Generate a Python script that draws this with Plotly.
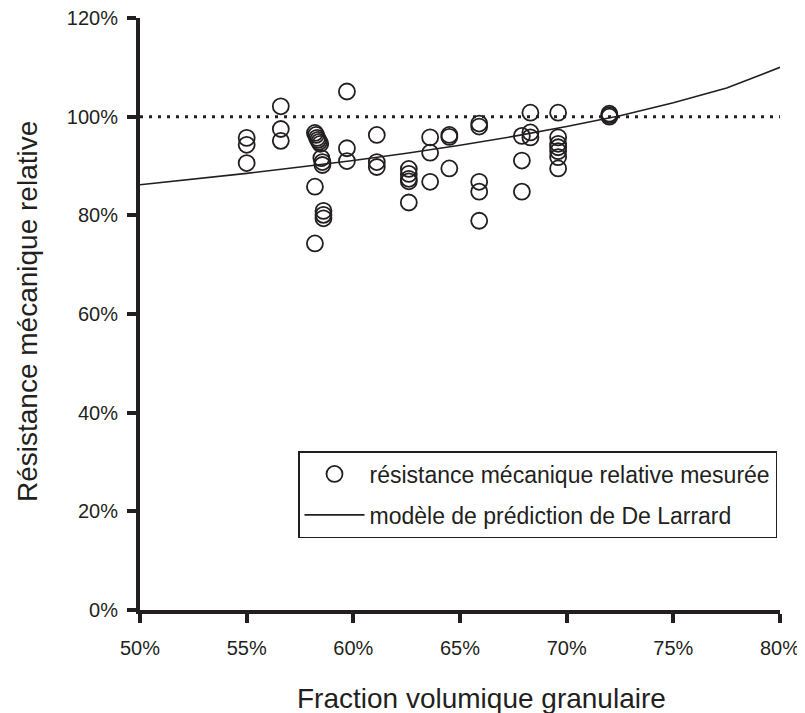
import plotly.graph_objects as go

# Measured points: fraction volumique granulaire (%) and relative strength (%)
meas_x = [55.0, 55.0, 55.0,
          56.6, 56.6, 56.6,
          58.2, 58.25, 58.3, 58.35, 58.4, 58.45, 58.5, 58.55, 58.55, 58.2,
          58.6, 58.6, 58.6, 58.2,
          59.7, 59.7, 59.7,
          61.1, 61.1, 61.1,
          62.6, 62.6, 62.6, 62.6, 62.6,
          63.6, 63.6, 63.6,
          64.5, 64.5, 64.5,
          65.9, 65.9, 65.9, 65.9, 65.9,
          67.9, 67.9, 67.9,
          68.3, 68.3, 68.3,
          69.6, 69.6, 69.6, 69.6, 69.6, 69.6, 69.6,
          72.0, 72.0, 72.0]
meas_y = [95.7, 94.3, 90.6,
          102.1, 97.5, 95.1,
          96.7, 96.3, 95.7, 95.3, 94.9, 94.5, 91.6, 90.8, 90.2, 85.8,
          80.9, 80.1, 79.4, 74.3,
          105.1, 93.6, 91.0,
          96.3, 90.8, 89.8,
          89.4, 88.4, 87.4, 86.9, 82.6,
          95.8, 92.7, 86.8,
          96.3, 95.9, 89.5,
          98.6, 98.0, 86.8, 84.8, 78.9,
          96.1, 91.1, 84.8,
          100.8, 96.8, 95.8,
          100.8, 95.8, 94.5, 93.8, 93.0, 91.8, 89.5,
          100.0, 100.3, 100.6]

# De Larrard prediction model
model_x = [50, 52.5, 55, 57.5, 60, 62.5, 65, 67.5, 70, 72.5, 75, 77.5, 80]
model_y = [86.2, 87.3, 88.5, 89.8, 91.1, 92.6, 94.2, 96.0, 98.0, 100.2, 102.8, 105.8, 110.0]

ref_x = [50, 80]
ref_y = [100, 100]

x_ticks = [50, 55, 60, 65, 70, 75, 80]
x_labels = ["50%", "55%", "60%", "65%", "70%", "75%", "80%"]
y_ticks = [0, 20, 40, 60, 80, 100, 120]
y_labels = ["0%", "20%", "40%", "60%", "80%", "100%", "120%"]

x_title = "Fraction volumique granulaire"
y_title = "Résistance mécanique relative"

FONT = "Liberation Sans, Arial, sans-serif"
INK = "#231f20"

fig = go.Figure()
fig.add_trace(go.Scatter(x=ref_x, y=ref_y, mode="lines",
                         line=dict(color=INK, width=3, dash="3px,6px"),
                         showlegend=False, hoverinfo="skip"))
fig.add_trace(go.Scatter(x=meas_x, y=meas_y, mode="markers",
                         marker=dict(symbol="circle-open", size=16,
                                     line=dict(color=INK, width=1.8), color=INK),
                         legendgroup="a",
                         name="résistance mécanique relative mesurée"))
fig.add_trace(go.Scatter(x=model_x, y=model_y, mode="lines",
                         line=dict(color=INK, width=1.6),
                         legendgroup="b",
                         name="modèle de prédiction de De Larrard"))

fig.add_annotation(text=x_title, xref="paper", yref="paper",
                   x=(295 - 140) / 640, y=-(699 - 610) / 592, xanchor="left", yanchor="middle",
                   showarrow=False, font=dict(family=FONT, size=28, color=INK))
fig.add_annotation(text=y_title, xref="paper", yref="paper", textangle=-90,
                   x=(27 - 140) / 640, y=(610 - 312) / 592, xanchor="center", yanchor="middle",
                   showarrow=False, font=dict(family=FONT, size=28, color=INK))

fig.update_layout(
    width=797, height=705,
    margin=dict(l=132, r=25, t=10, b=103, autoexpand=False),
    paper_bgcolor="white", plot_bgcolor="white",
    font=dict(family=FONT, color=INK, size=20),
    showlegend=True,
    legend=dict(x=(777 - 140) / 640, y=(610 - 451) / 592, xanchor="right", yanchor="top",
                bgcolor="white", bordercolor=INK, borderwidth=1.5,
                font=dict(family=FONT, size=23, color=INK),
                traceorder="grouped", itemwidth=60, tracegroupgap=8),
    xaxis=dict(range=[50, 80], tickvals=x_ticks, ticktext=x_labels,
               showgrid=False, zeroline=False, showline=True, automargin=False,
               linecolor=INK, linewidth=4, ticks="outside", ticklen=9,
               tickwidth=4, tickcolor=INK, ticklabelstandoff=8,
               ticklabeloverflow="allow",
               tickfont=dict(family=FONT, size=20, color=INK)),
    yaxis=dict(range=[0, 120], tickvals=y_ticks, ticktext=y_labels,
               showgrid=False, zeroline=False, showline=True, automargin=False,
               linecolor=INK, linewidth=4, ticks="outside", ticklen=9,
               tickwidth=4, tickcolor=INK, ticklabelstandoff=5,
               ticklabeloverflow="allow",
               tickfont=dict(family=FONT, size=20, color=INK)),
)

fig.write_html("out.html")
